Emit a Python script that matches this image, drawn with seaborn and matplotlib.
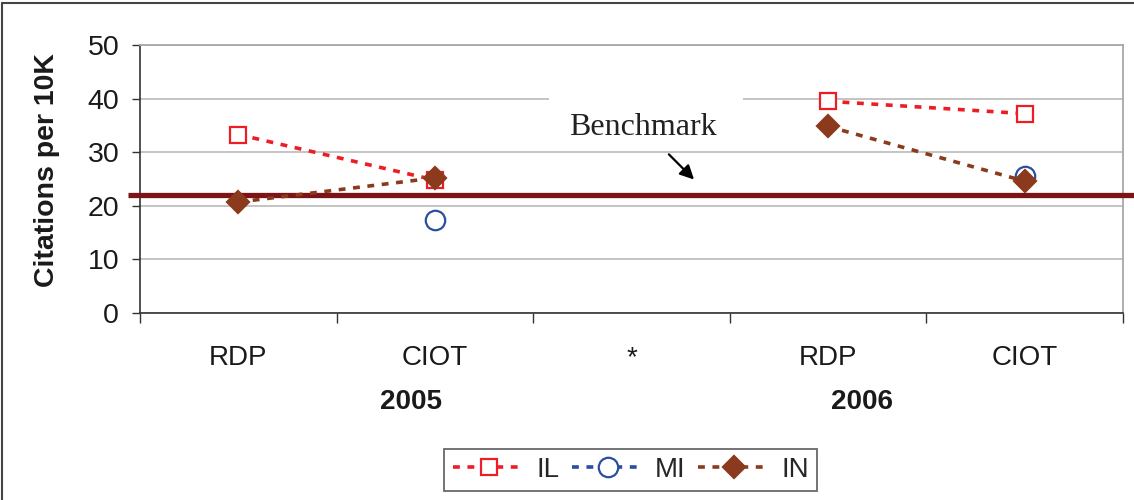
import numpy as np
import pandas as pd
import matplotlib
matplotlib.use("Agg")
import matplotlib.pyplot as plt
import matplotlib.transforms as mtransforms
from matplotlib.lines import Line2D
from matplotlib.patches import Rectangle
import seaborn as sns

# ---- data -------------------------------------------------------------
categories = ["RDP", "CIOT", "*", "RDP", "CIOT"]
category_year = ["2005", "2005", "", "2006", "2006"]
year_labels = ["2005", "2006"]
year_label_pos = [0.88, 3.17]
il_values = [33.3, 24.8, np.nan, 39.5, 37.2]
mi_values = [np.nan, 17.3, np.nan, np.nan, 25.5]
in_values = [20.7, 25.2, np.nan, 34.8, 24.6]
benchmark = 22.0
y_ticks = [0, 10, 20, 30, 40, 50]

series = {"IL": il_values, "MI": mi_values, "IN": in_values}
styles = {
    "IL": dict(color="#EE1D25", marker="s", mfc="white", ms=12),
    "MI": dict(color="#2B4EA2", marker="o", mfc="white", ms=14),
    "IN": dict(color="#8B3A1E", marker="D", mfc="#8B3A1E", ms=11),
}

rows = []
for name, vals in series.items():
    for i, v in enumerate(vals):
        if not np.isnan(v):
            rows.append(dict(series=name, pos=i, value=v, year=category_year[i]))
df = pd.DataFrame(rows)

# ---- figure -------------------------------------------------------------
sns.set_theme(style="white")
plt.rcParams["font.family"] = ["Liberation Sans", "DejaVu Sans"]

fig = plt.figure(figsize=(11.34, 5.0), dpi=100)
ax = fig.add_axes([0.1235, 0.374, 0.8668, 0.536])

dash = (0, (1.9, 2.1))
for name in series:
    st = styles[name]
    sub = df[df["series"] == name]
    sns.lineplot(
        data=sub, x="pos", y="value", units="year", estimator=None,
        ax=ax, color=st["color"], linewidth=2.6, linestyle=dash,
        marker=st["marker"], markersize=st["ms"],
        markerfacecolor=st["mfc"], markeredgecolor=st["color"],
        markeredgewidth=1.6, zorder=4, legend=False,
    )

# benchmark line, running slightly past the plot area
trans = mtransforms.blended_transform_factory(ax.transAxes, ax.transData)
ax.plot([-0.012, 1.02], [benchmark, benchmark], transform=trans,
        color="#7A1416", linewidth=3.8, clip_on=False, zorder=3,
        solid_capstyle="butt")

# axes limits, grid and spines
ax.set_xlim(-0.5, len(categories) - 0.5)
ax.set_ylim(0, 50)
ax.set_yticks(y_ticks)
ax.yaxis.grid(True, color="#B4B4B4", linewidth=1.1)
ax.set_axisbelow(True)
for side in ("top", "right"):
    ax.spines[side].set_color("#A8A8A8")
    ax.spines[side].set_linewidth(1.3)
for side in ("left", "bottom"):
    ax.spines[side].set_color("#333333")
    ax.spines[side].set_linewidth(1.2)

ax.set_xticks(range(len(categories)))
ax.set_xticklabels(categories)
ax.set_xticks(np.arange(-0.5, len(categories)), minor=True)
ax.tick_params(axis="x", which="major", length=0, pad=23, labelsize=20,
               labelcolor="#1A1A1A")
ax.tick_params(axis="x", which="minor", length=7, width=1.0,
               color="#333333", direction="out", bottom=True)
ax.tick_params(axis="y", length=6, width=1.0, color="#333333",
               direction="out", left=True, pad=9, labelsize=20.5,
               labelcolor="#1A1A1A")
ax.set_xlabel("")
ax.set_ylabel("Citations per 10K", fontsize=20.5, fontweight="bold",
              color="#1A1A1A")
ax.yaxis.set_label_coords(-0.081, 0.534)

# year group labels
ytrans = mtransforms.blended_transform_factory(ax.transData, ax.transAxes)
for label, xpos in zip(year_labels, year_label_pos):
    ax.text(xpos, -0.332, label, transform=ytrans, ha="center", va="center",
            fontsize=20, fontweight="bold", color="#1A1A1A")

# benchmark annotation
ax.add_patch(Rectangle((1.58, 37.5), 0.985, 5.0, facecolor="white",
                       edgecolor="none", zorder=1))
ax.text(2.06, 34.6, "Benchmark", ha="center", va="center", fontsize=23,
        family="Liberation Serif", color="#222222", zorder=5)
ax.annotate("", xy=(2.318, 24.9), xytext=(2.19, 29.6),
            arrowprops=dict(arrowstyle="-|>,head_length=0.7,head_width=0.35",
                            color="black", lw=1.6, shrinkA=0, shrinkB=0),
            zorder=5)

# legend
handles = []
for name in series:
    st = styles[name]
    handles.append(Line2D([], [], color=st["color"], linewidth=2.6,
                          linestyle=dash, marker=st["marker"],
                          markersize=st["ms"], markerfacecolor=st["mfc"],
                          markeredgecolor=st["color"], markeredgewidth=1.6))
leg = fig.legend(handles, list(series), loc="center",
                 bbox_to_anchor=(0.5564, 0.06), ncol=3, fontsize=20,
                 frameon=True, fancybox=False, edgecolor="#444444",
                 handlelength=2.6, handletextpad=0.4, columnspacing=0.45,
                 borderpad=0.3)
leg.get_frame().set_linewidth(1.3)

# outer frame of the figure
fig.add_artist(Line2D([0.002, 0.002], [0.0, 0.994], color="#444444",
                      linewidth=1.5, transform=fig.transFigure))
fig.add_artist(Line2D([0.002, 1.0], [0.994, 0.994], color="#444444",
                      linewidth=1.5, transform=fig.transFigure))

fig.savefig("out.png", dpi=100)
